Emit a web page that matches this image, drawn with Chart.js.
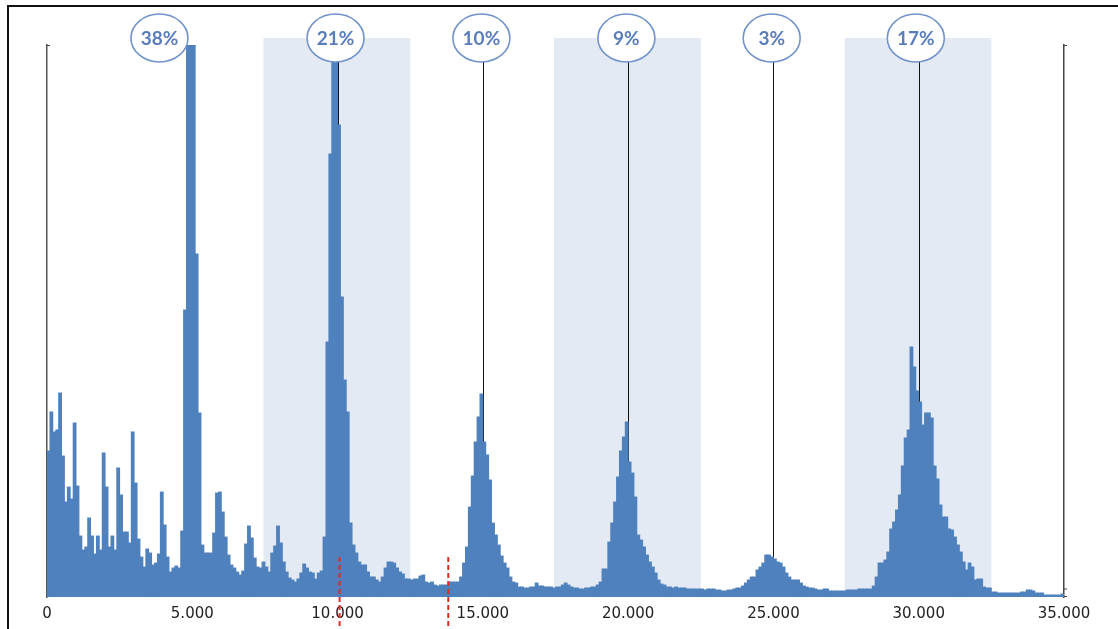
<!DOCTYPE html>
<html>
<head>
<meta charset="utf-8">
<script src="https://cdn.jsdelivr.net/npm/chart.js@4.4.1/dist/chart.umd.min.js"></script>
<style>
  html, body { margin: 0; padding: 0; background: #ffffff; }
  #wrap { position: relative; width: 1118px; height: 629px; }
  canvas { display: block; }
</style>
</head>
<body>
<div id="wrap"><canvas id="c" width="1118" height="629"></canvas></div>
<script>
// ---- data (counts per 100-wide bin) ----
const binWidth = 100;
const counts00k = [146,185,165,167,204,141,95,110,98,174, 111,61,47,50,79,61,43,61,47,144,
                   110,50,61,47,129,102,65,65,54,165, 114,58,40,30,48,44,32,34,43,105,
                   72,40,25,29,31,29,66,287,600,600];
const counts05k = [600,343,184,52,44,44,44,64,104,105, 85,60,42,32,29,25,22,26,53,71,
                   59,39,30,29,35,30,25,44,51,71, 54,35,25,19,17,15,18,24,33,29,
                   25,24,18,24,26,60,255,443,600,600];
const counts10k = [472,300,217,185,74,52,44,35,32,32, 25,20,20,17,15,20,29,35,35,34,
                   29,25,23,18,18,17,18,18,21,22, 15,14,15,12,11,12,12,12,15,15,
                   15,15,20,34,50,90,121,155,180,203];
const counts15k = [155,142,117,74,62,52,41,34,29,20, 15,14,10,10,9,9,10,10,14,11,
                   11,10,10,10,9,10,10,12,14,12, 10,9,9,8,8,9,9,10,10,12,
                   15,28,28,55,74,95,120,146,160,175];
const counts20k = [135,124,100,62,57,50,42,35,30,24, 17,13,12,10,10,9,10,9,9,9,
                   8,8,8,8,8,8,7,8,8,8, 7,7,6,6,7,7,8,9,9,11,
                   14,17,20,20,27,30,34,42,42,40];
const counts25k = [38,35,34,30,24,20,17,17,17,14, 11,10,9,9,8,7,7,8,8,6,
                   6,6,6,6,6,7,7,7,7,8, 8,8,8,8,11,20,34,34,37,45,
                   68,75,87,102,131,159,167,250,230,206];
const counts30k = [195,172,184,184,179,131,118,92,80,80, 68,67,60,52,45,35,27,34,30,17,
                   18,18,10,9,9,5,5,4,4,4, 4,4,4,4,4,5,5,7,7,6,
                   4,4,4,2,2,2,2,2,2,3];

const xTicks = [0, 5000, 10000, 15000, 20000, 25000, 30000, 35000];
const peakX = [5000, 10000, 15000, 20000, 25000, 30000];
const peakLabels = ['38%', '21%', '10%', '9%', '3%', '17%'];
const labelX = [3870, 9930, 14950, 19940, 24940, 29900];
const bandStart = [7450, 17450, 27450];
const bandEnd = [12500, 22500, 32500];
const markerX = [10070, 13810];
const markerFromY = 40;
const yMax = 552;

const counts = [].concat(counts00k, counts05k, counts10k, counts15k, counts20k, counts25k, counts30k);
const points = counts.map((v, i) => ({ x: i * binWidth + binWidth / 2, y: v }));

function fmt(v) {
  return String(v).replace(/\B(?=(\d{3})+(?!\d))/g, '.');
}

const deco = {
  id: 'deco',
  beforeDatasetsDraw(chart) {
    const { ctx, chartArea: a, scales: { x } } = chart;
    ctx.save();
    ctx.fillStyle = '#E3EAF4';
    for (let i = 0; i < bandStart.length; i++) {
      const x0 = x.getPixelForValue(bandStart[i]);
      const x1 = x.getPixelForValue(bandEnd[i]);
      ctx.fillRect(x0, a.top - 7, x1 - x0, a.bottom - (a.top - 7));
    }
    ctx.strokeStyle = '#111';
    ctx.lineWidth = 1;
    for (const p of peakX) {
      const px = Math.round(x.getPixelForValue(p)) + 0.5;
      ctx.beginPath();
      ctx.moveTo(px, a.top);
      ctx.lineTo(px, a.bottom);
      ctx.moveTo(px, a.top + 0.5);
      ctx.lineTo(px + 3, a.top + 0.5);
      ctx.stroke();
    }
    ctx.restore();
  },
  afterDraw(chart) {
    const { ctx, chartArea: a, scales: { x, y } } = chart;
    ctx.save();
    // axis caps
    ctx.strokeStyle = '#444';
    ctx.lineWidth = 1.2;
    ctx.beginPath();
    ctx.moveTo(a.left, a.top + 0.5); ctx.lineTo(a.left + 3, a.top + 0.5);
    ctx.moveTo(a.right, a.top + 0.5); ctx.lineTo(a.right + 3, a.top + 0.5);
    ctx.moveTo(a.right, a.bottom - 8); ctx.lineTo(a.right + 3, a.bottom - 8);
    ctx.moveTo(a.right, a.bottom - 0.5); ctx.lineTo(a.right + 3, a.bottom - 0.5);
    ctx.stroke();
    // peak label ellipses
    for (let i = 0; i < labelX.length; i++) {
      const cx = x.getPixelForValue(labelX[i]);
      const cy = a.top - 7;
      ctx.beginPath();
      ctx.ellipse(cx, cy, 28.5, 24, 0, 0, Math.PI * 2);
      ctx.fillStyle = '#ffffff';
      ctx.fill();
      ctx.strokeStyle = '#7193C9';
      ctx.lineWidth = 1.6;
      ctx.stroke();
      ctx.fillStyle = '#5A7DBB';
      ctx.font = 'bold 19px Lato, "Open Sans", sans-serif';
      ctx.textAlign = 'center';
      ctx.textBaseline = 'middle';
      ctx.fillText(peakLabels[i], cx, cy + 1);
    }
    // red dashed markers
    ctx.strokeStyle = '#E42B24';
    ctx.lineWidth = 2;
    ctx.setLineDash([5, 3]);
    for (const m of markerX) {
      const mx = x.getPixelForValue(m);
      ctx.beginPath();
      ctx.moveTo(mx, y.getPixelForValue(markerFromY));
      ctx.lineTo(mx, chart.height);
      ctx.stroke();
    }
    ctx.setLineDash([]);
    // outer frame
    ctx.fillStyle = '#111';
    ctx.fillRect(7, 5, chart.width - 7, 2);
    ctx.fillRect(7, 5, 2, chart.height - 5);
    ctx.restore();
  }
};

new Chart(document.getElementById('c'), {
  type: 'bar',
  data: {
    datasets: [{
      data: points,
      backgroundColor: '#4F81BD',
      borderWidth: 0,
      inflateAmount: 0.45,
      barPercentage: 1,
      categoryPercentage: 1,
      clip: 0
    }]
  },
  options: {
    responsive: false,
    devicePixelRatio: 1,
    animation: false,
    events: [],
    layout: { padding: { left: 47, right: 54, top: 45, bottom: 0 } },
    plugins: { legend: { display: false }, tooltip: { enabled: false }, title: { display: false } },
    scales: {
      x: {
        type: 'linear',
        min: 0, max: 35000,
        offset: false,
        grid: { display: false, drawTicks: false, offset: false },
        border: { display: false },
        afterBuildTicks(s) { s.ticks = xTicks.map(v => ({ value: v })); },
        afterFit(s) { s.height = 32; },
        ticks: {
          callback: v => fmt(v),
          color: '#222',
          padding: 8,
          maxRotation: 0,
          autoSkip: false,
          font: { family: '"DejaVu Sans", sans-serif', size: 15 }
        }
      },
      y: {
        position: 'left',
        min: 0, max: yMax,
        grid: { display: false, drawTicks: false },
        border: { display: true, color: '#555', width: 1.5 },
        ticks: { display: false },
        afterFit(s) { s.width = 0; }
      },
      y2: {
        position: 'right',
        min: 0, max: yMax,
        grid: { display: false, drawTicks: false },
        border: { display: true, color: '#444', width: 1.5 },
        ticks: { display: false },
        afterFit(s) { s.width = 0; }
      }
    }
  },
  plugins: [deco]
});
</script>
</body>
</html>
